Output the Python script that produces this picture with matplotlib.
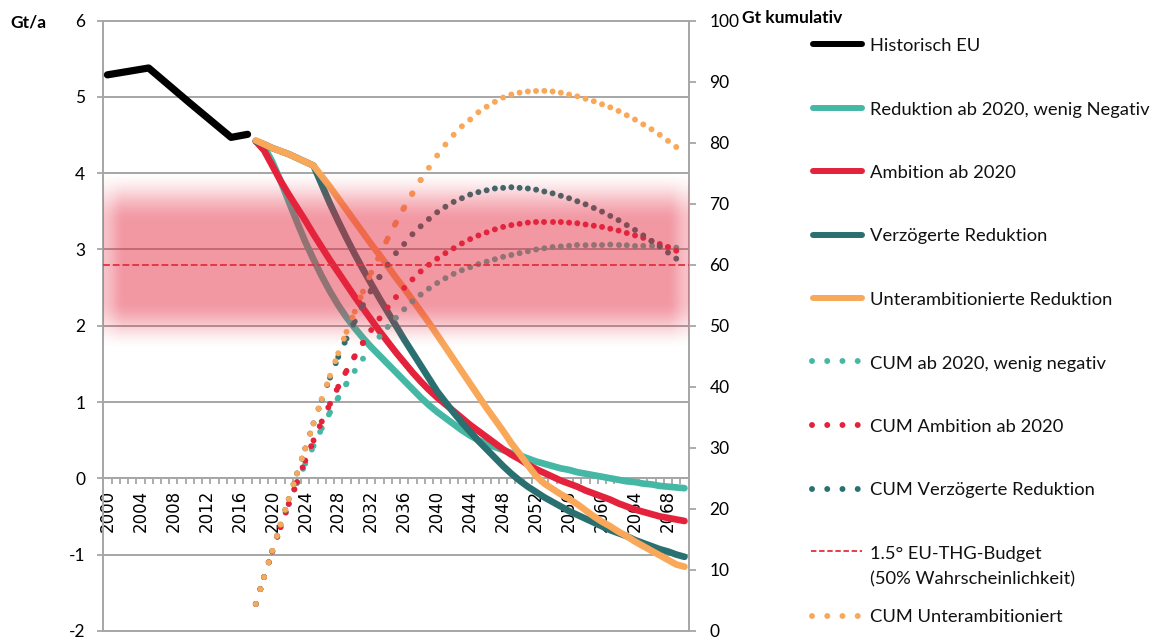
import matplotlib.pyplot as plt
import numpy as np
from matplotlib.collections import LineCollection
from matplotlib.lines import Line2D

plt.rcParams['font.family'] = ['Lato', 'DejaVu Sans']
plt.rcParams['axes.unicode_minus'] = False

W, H = 1168, 643

# --- data ---
hist_years = [2000, 2005, 2010, 2015, 2016, 2017]
hist_vals = [5.29, 5.38, 4.92, 4.47, 4.49, 4.51]

scen_years = list(range(2018, 2071))

# annual emissions, Gt/a
red_teal = [4.42, 4.35, 4.15, 3.90, 3.63, 3.36, 3.10, 2.87, 2.65, 2.45,
            2.27, 2.11, 1.97, 1.84, 1.72, 1.61, 1.50, 1.39, 1.28, 1.17,
            1.06, 0.96, 0.87, 0.79, 0.71, 0.63, 0.56, 0.50, 0.45, 0.41,
            0.37, 0.33, 0.30, 0.26, 0.22, 0.19, 0.16, 0.13, 0.11, 0.08,
            0.06, 0.04, 0.02, 0.00, -0.02, -0.04, -0.05, -0.07, -0.08, -0.10,
            -0.11, -0.12, -0.13]
ambition = [4.42, 4.30, 4.10, 3.90, 3.72, 3.55, 3.38, 3.20, 3.03, 2.86,
            2.70, 2.54, 2.38, 2.23, 2.08, 1.93, 1.79, 1.65, 1.52, 1.39,
            1.27, 1.16, 1.06, 0.97, 0.88, 0.79, 0.70, 0.62, 0.54, 0.46,
            0.38, 0.31, 0.25, 0.18, 0.12, 0.07, 0.02, -0.03, -0.07, -0.11,
            -0.16, -0.20, -0.24, -0.28, -0.33, -0.37, -0.41, -0.44, -0.47, -0.50,
            -0.52, -0.54, -0.56]
delayed = [4.42, 4.38, 4.33, 4.29, 4.25, 4.20, 4.15, 4.10, 3.85, 3.60,
           3.37, 3.15, 2.94, 2.74, 2.55, 2.36, 2.18, 2.00, 1.82, 1.65,
           1.48, 1.31, 1.14, 1.00, 0.86, 0.73, 0.61, 0.49, 0.38, 0.27,
           0.16, 0.06, -0.03, -0.11, -0.18, -0.25, -0.31, -0.37, -0.43, -0.48,
           -0.53, -0.58, -0.63, -0.68, -0.72, -0.76, -0.81, -0.85, -0.89, -0.93,
           -0.96, -1.00, -1.03]
underamb = [4.43, 4.38, 4.33, 4.29, 4.25, 4.20, 4.15, 4.10, 3.96, 3.82,
            3.67, 3.52, 3.37, 3.22, 3.07, 2.93, 2.78, 2.63, 2.49, 2.34,
            2.19, 2.04, 1.88, 1.72, 1.56, 1.40, 1.24, 1.08, 0.92, 0.77,
            0.62, 0.46, 0.32, 0.17, 0.03, -0.07, -0.14, -0.21, -0.27, -0.34,
            -0.42, -0.50, -0.57, -0.63, -0.70, -0.76, -0.83, -0.89, -0.95, -1.01,
            -1.07, -1.13, -1.16]

# cumulative emissions, Gt (right axis)
cum_red_teal = [4.4, 8.8, 13.0, 17.0, 20.8, 24.2, 27.4, 30.3, 33.2, 35.8,
                38.2, 40.5, 42.6, 44.6, 46.5, 48.2, 49.8, 51.3, 52.7, 54.0,
                55.1, 56.1, 57.0, 57.8, 58.5, 59.1, 59.6, 60.1, 60.5, 60.9,
                61.3, 61.6, 61.9, 62.2, 62.5, 62.7, 62.9, 63.0, 63.1, 63.2,
                63.2, 63.3, 63.3, 63.3, 63.2, 63.2, 63.1, 63.1, 63.0, 63.0,
                62.9, 62.8, 62.7]
cum_ambition = [4.4, 8.8, 13.0, 17.0, 20.8, 24.4, 27.9, 31.2, 34.3, 37.2,
                40.0, 42.6, 45.0, 47.2, 49.3, 51.2, 53.0, 54.7, 56.2, 57.6,
                58.9, 60.0, 61.0, 61.9, 62.7, 63.5, 64.2, 64.8, 65.3, 65.8,
                66.2, 66.5, 66.7, 66.9, 67.0, 67.0, 67.0, 67.0, 66.9, 66.8,
                66.6, 66.4, 66.2, 65.9, 65.6, 65.2, 64.8, 64.4, 63.9, 63.4,
                62.9, 62.3, 61.7]
cum_delayed = [4.4, 8.8, 13.1, 17.4, 21.6, 25.8, 29.9, 34.0, 37.9, 41.5,
               44.9, 47.9, 50.7, 53.4, 55.8, 58.0, 60.0, 61.9, 63.4, 65.0,
               66.3, 67.5, 68.6, 69.5, 70.3, 70.9, 71.5, 71.9, 72.2, 72.5,
               72.6, 72.7, 72.6, 72.5, 72.3, 72.0, 71.7, 71.3, 70.9, 70.4,
               69.9, 69.3, 68.7, 68.0, 67.3, 66.5, 65.7, 64.8, 63.9, 63.0,
               62.0, 61.0, 60.0]
cum_underamb = [4.4, 8.8, 13.1, 17.4, 21.6, 25.8, 29.9, 34.0, 38.0, 41.8,
                45.5, 49.0, 52.3, 55.6, 58.7, 61.5, 64.3, 66.9, 69.4, 71.7,
                73.9, 75.9, 77.9, 79.7, 81.3, 82.7, 83.8, 85.0, 85.9, 86.7,
                87.4, 87.9, 88.2, 88.4, 88.5, 88.5, 88.4, 88.2, 87.9, 87.6,
                87.2, 86.8, 86.3, 85.8, 85.2, 84.5, 83.8, 83.0, 82.2, 81.3,
                80.3, 79.3, 78.2]

budget = 60          # Gt cumulative, 1.5 deg EU budget
band_lo, band_hi = 46.0, 75.5
band_in_lo, band_in_hi = 54.0, 67.0

label_years = list(range(2000, 2069, 4))

BLACK = '#000000'
TEAL = '#45b8a5'
RED = '#e4223b'
DTEAL = '#2a7070'
ORANGE = '#f9a85a'
GRID = '#a6a6a6'

fig = plt.figure(figsize=(W / 100, H / 100), dpi=100)
ax = fig.add_axes([103.3 / W, 1 - 630.8 / H, (688.6 - 103.3) / W, (630.8 - 20.7) / H])
ax2 = ax.twinx()

# annual lines
ax.plot(hist_years, hist_vals, color=BLACK, lw=5.2,
        solid_capstyle='round', solid_joinstyle='round', zorder=3)
for vals, col in [(red_teal, TEAL), (ambition, RED), (delayed, DTEAL), (underamb, ORANGE)]:
    ax.plot(scen_years, vals, color=col, lw=4.8,
            solid_capstyle='round', solid_joinstyle='round', zorder=3)

DOT_LS = (0, (0.001, 2.6))


def dotted(axis, years, vals, color):
    # excel restarts the dot pattern at every point, so draw segment by segment
    pts = np.column_stack([years, vals])
    segs = np.stack([pts[:-1], pts[1:]], axis=1)
    lc = LineCollection(segs, colors=color, linewidths=4.3, linestyles=[DOT_LS],
                        capstyle='round', zorder=3)
    axis.add_collection(lc)


for vals, col in [(cum_red_teal, TEAL), (cum_ambition, RED),
                  (cum_delayed, DTEAL), (cum_underamb, ORANGE)]:
    dotted(ax2, scen_years, vals, col)


# soft red budget band, drawn over everything
def smooth(t):
    t = np.clip(t, 0, 1)
    return t * t * (3 - 2 * t)


ny, nx = 240, 300
rr = np.linspace(band_lo, band_hi, ny)
xx = np.linspace(1999.5, 2070.5, nx)
fy = smooth((rr - band_lo) / (band_in_lo - band_lo)) * smooth((band_hi - rr) / (band_hi - band_in_hi))
fx = 0.6 + 0.4 * smooth(np.minimum(xx - 1999.5, 2070.5 - xx) / 2.5)
img = np.zeros((ny, nx, 4))
img[..., 0], img[..., 1], img[..., 2] = 0.90, 0.16, 0.25
img[..., 3] = 0.48 * fy[:, None] * fx[None, :]
ax2.imshow(img, extent=[1999.5, 2070.5, band_lo, band_hi], origin='lower',
           aspect='auto', interpolation='bilinear', zorder=4)
ax2.axhline(budget, color='#e62e3d', lw=1.3, ls=(0, (3.8, 1.6)), zorder=5)

ax.set_xlim(1999.5, 2070.5)
ax.set_ylim(-2, 6)
ax2.set_ylim(0, 100)

# axes styling
ax.set_axisbelow(True)
ax.yaxis.grid(True, color=GRID, lw=1.4)
ax.set_yticks(range(-2, 7))
ax2.set_yticks(range(0, 101, 10))
ax.set_xticks(label_years)
ax.set_xticklabels([str(y) for y in label_years])
ax.set_xticks(np.arange(1999.5, 2071, 1), minor=True)

ax.spines['bottom'].set_position(('data', 0))
for sp in ['left', 'bottom', 'top']:
    ax.spines[sp].set_color(GRID)
    ax.spines[sp].set_linewidth(1.4)
ax.spines['right'].set_visible(False)
for sp in ['left', 'top']:
    ax2.spines[sp].set_visible(False)
for sp in ['right', 'bottom']:
    ax2.spines[sp].set_color(GRID)
    ax2.spines[sp].set_linewidth(1.4)

ax.tick_params(axis='y', direction='out', length=4, width=1.3, color=GRID, pad=9, labelsize=12.5)
ax.tick_params(axis='x', which='major', length=0, pad=8, labelrotation=90,
               labelsize=12, labelfontfamily='DejaVu Sans')
ax.tick_params(axis='x', which='minor', direction='out', length=4, width=1.3, color=GRID)
ax2.tick_params(axis='y', direction='out', length=5, width=1.3, color=GRID, pad=10, labelsize=12.5)

fig.text(10 / W, 1 - 22 / H, 'Gt/a', fontweight='bold', fontsize=12.5, va='center')
fig.text(742 / W, 1 - 18 / H, 'Gt kumulativ', fontweight='bold', fontsize=12.5, va='center')

# legend, placed by hand like the excel one
legend_items = [
    ('Historisch EU', 'solid', BLACK),
    ('Reduktion ab 2020, wenig Negativ', 'solid', TEAL),
    ('Ambition ab 2020', 'solid', RED),
    ('Verzögerte Reduktion', 'solid', DTEAL),
    ('Unterambitionierte Reduktion', 'solid', ORANGE),
    ('CUM ab 2020, wenig negativ', 'dot', TEAL),
    ('CUM Ambition ab 2020', 'dot', RED),
    ('CUM Verzögerte Reduktion', 'dot', DTEAL),
    ('1.5° EU-THG-Budget\n(50% Wahrscheinlichkeit)', 'dash', '#e62e3d'),
    ('CUM Unterambitioniert', 'dot', ORANGE),
]


def fx_(px):
    return px / W


def fy_(px):
    return 1 - px / H


for i, (lab, kind, col) in enumerate(legend_items):
    yc = 45 + 63.5 * i
    if kind == 'solid':
        ln = Line2D([fx_(813), fx_(862)], [fy_(yc - 1)] * 2, color=col, lw=4.3,
                    solid_capstyle='round', transform=fig.transFigure)
    elif kind == 'dot':
        ln = Line2D([fx_(812), fx_(860)], [fy_(yc - 1)] * 2, color=col, lw=4.3,
                    ls=(0, (0.001, 2.55)), dash_capstyle='round', transform=fig.transFigure)
    else:
        ln = Line2D([fx_(811), fx_(862)], [fy_(yc - 2)] * 2, color=col, lw=1.3,
                    ls=(0, (3.0, 1.5)), transform=fig.transFigure)
    fig.add_artist(ln)
    for j, part in enumerate(lab.split('\n')):
        fig.text(fx_(870), fy_(yc + 6 + 25 * j), part, fontsize=13.2, va='baseline', color='#111111')

fig.savefig('out.png', dpi=100)
